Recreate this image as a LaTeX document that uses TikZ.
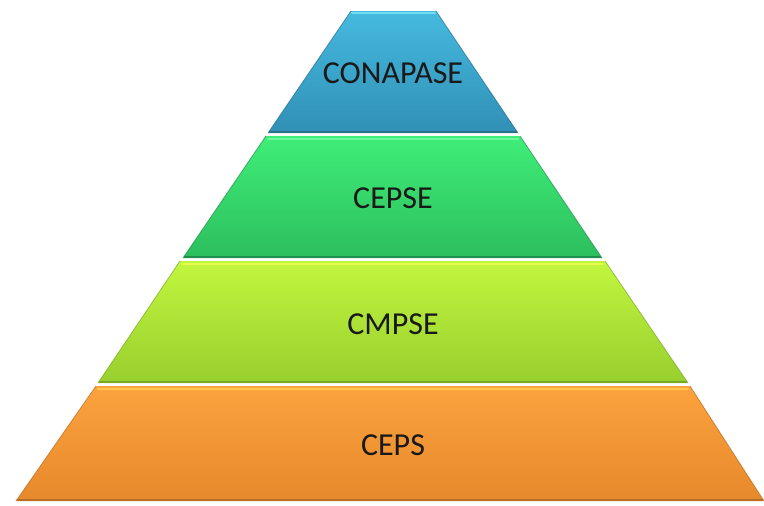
\documentclass[tikz,border=0pt]{standalone}
\usepackage{fontspec}
\setmainfont{Carlito}

\definecolor{blueT}{HTML}{45B9DF}
\definecolor{blueB}{HTML}{3190B6}
\definecolor{blueE}{HTML}{2A6F8C}
\definecolor{blueH}{HTML}{72DEF4}
\definecolor{greenT}{HTML}{3FEE78}
\definecolor{greenB}{HTML}{2CBE5D}
\definecolor{greenE}{HTML}{22904E}
\definecolor{greenH}{HTML}{6CF89C}
\definecolor{limeT}{HTML}{C2F63E}
\definecolor{limeB}{HTML}{97CF2E}
\definecolor{limeE}{HTML}{79A825}
\definecolor{limeH}{HTML}{E4FC4C}
\definecolor{orangeT}{HTML}{FCA23E}
\definecolor{orangeB}{HTML}{E6892C}
\definecolor{orangeE}{HTML}{B56E24}
\definecolor{orangeH}{HTML}{FFC64E}

\begin{document}
\begin{tikzpicture}[x=1pt,y=-1pt]
        \tikzstyle{label}=[inner sep=0pt, text=black!90, font=\fontsize{32}{38}\selectfont]
        \tikzstyle{shine}=[line width=2.5pt, line cap=round]
        \tikzstyle{rim}=[line width=0.8pt, opacity=0.7]
        \useasboundingbox (0,0) rectangle (764,506);
        % CONAPASE
        \shade [top color=blueT, bottom color=blueB] (351,11) -- (436,11) -- (518,133) -- (268,133) -- cycle;
        \draw [rim, blueE] (351,11) -- (268,133) (436,11) -- (518,133);
        \draw [shine, blueH] (352,13) -- (435,13);
        \draw [line width=1.5pt, blueE] (269,132) -- (517,132);
        \draw (393,73) node [label] (conapase) {CONAPASE};
        % CEPSE
        \shade [top color=greenT, bottom color=greenB] (266,136) -- (520,136) -- (602,258) -- (183,258) -- cycle;
        \draw [rim, greenE] (266,136) -- (183,258) (520,136) -- (602,258);
        \draw [shine, greenH] (268,139) -- (518,139);
        \draw [line width=1.5pt, greenE] (184,257) -- (601,257);
        \draw (393,198) node [label] (cepse) {CEPSE};
        % CMPSE
        \shade [top color=limeT, bottom color=limeB] (180,261) -- (605,261) -- (688,383) -- (98,383) -- cycle;
        \draw [rim, limeE] (180,261) -- (98,383) (605,261) -- (688,383);
        \draw [shine, limeH] (182,264) -- (603,264);
        \draw [line width=1.5pt, limeE] (99,382) -- (687,382);
        \draw (393,324) node [label] (cmpse) {CMPSE};
        % CEPS
        \shade [top color=orangeT, bottom color=orangeB] (96,386) -- (690,386) -- (764,501) -- (16,501) -- cycle;
        \draw [rim, orangeE] (96,386) -- (16,501) (690,386) -- (764,501);
        \draw [shine, orangeH] (98,389) -- (688,389);
        \draw [line width=1.5pt, orangeE] (17,500) -- (763,500);
        \draw (393,445) node [label] (ceps) {CEPS};
\end{tikzpicture}
\end{document}
